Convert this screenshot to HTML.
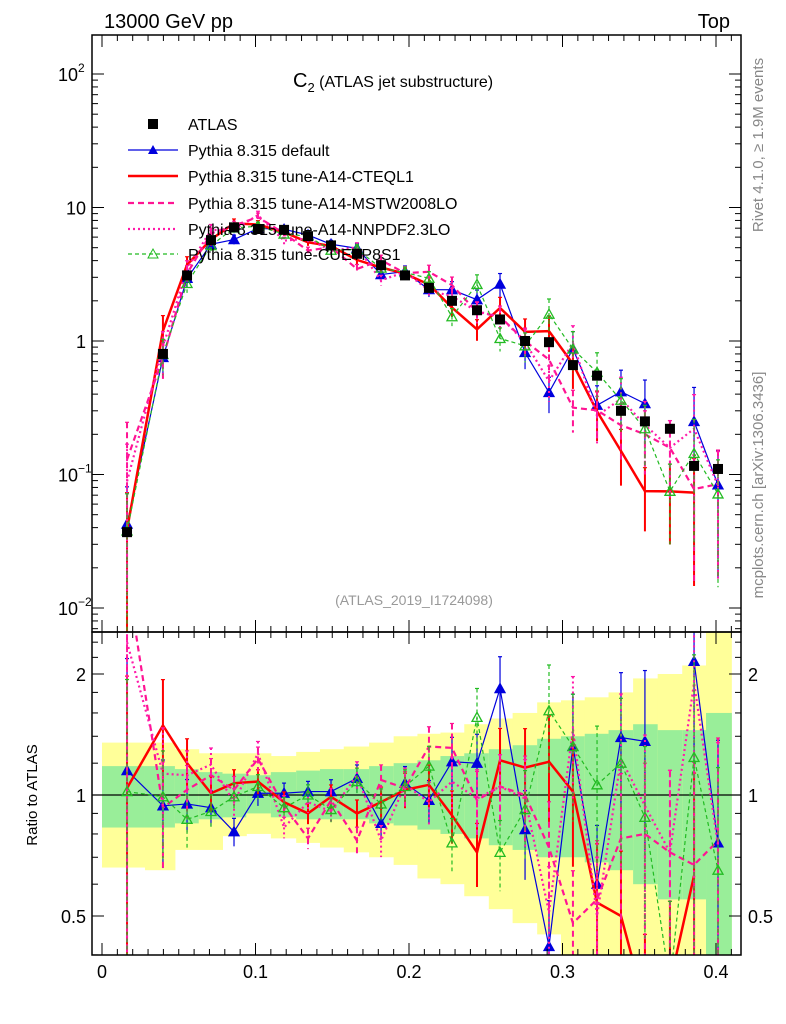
<!DOCTYPE html>
<html><head><meta charset="utf-8"><style>
html,body{margin:0;background:#fff;width:786px;height:1024px;overflow:hidden}
svg{display:block;font-family:"Liberation Sans",sans-serif}
</style></head><body>
<svg id="c" width="786" height="1024" xmlns="http://www.w3.org/2000/svg"></svg>
<script>
const xs=[0.0163,0.0397,0.0554,0.0710,0.0860,0.1016,0.1186,0.1342,0.1492,0.1661,0.1818,0.1974,0.2130,0.2280,0.2443,0.2593,0.2756,0.2912,0.3068,0.3225,0.3381,0.3537,0.3700,0.3857,0.4013];
const edges=[0,0.028,0.0475,0.063,0.0785,0.094,0.110,0.1265,0.142,0.1575,0.174,0.19,0.2055,0.2205,0.236,0.252,0.2675,0.2835,0.299,0.3145,0.330,0.346,0.362,0.378,0.3935,0.41];
const atlas=[0.037,0.8,3.1,5.7,7.1,6.9,6.8,6.1,5.2,4.5,3.7,3.1,2.5,2.0,1.7,1.45,1.0,0.98,0.66,0.55,0.30,0.25,0.22,0.116,0.11];
const rDefault=[1.15,0.94,0.95,0.93,0.81,1.01,1.01,1.02,1.02,1.10,0.85,1.07,0.97,1.21,1.20,1.84,0.82,0.42,1.32,0.60,1.39,1.36,null,2.15,0.76];
const rCTEQ=[1.04,1.49,1.2,1.01,1.07,1.08,0.96,0.9,0.99,0.9,0.96,1.03,1.06,0.89,0.72,1.22,1.17,1.21,1.02,0.54,0.50,0.30,0.34,0.63,null];
const rMSTW=[3.5,0.93,1.03,1.12,1.03,1.23,0.94,0.78,0.97,0.77,1.09,1.04,1.32,1.31,0.97,1.05,1.0,0.74,0.48,0.55,0.78,0.8,0.72,0.67,0.77];
const rNNPDF=[2.4,1.13,1.12,1.19,0.96,1.27,0.83,0.96,0.91,1.12,0.77,1.06,0.96,1.08,0.98,1.05,0.98,0.51,1.46,0.5,1.23,0.94,0.72,1.9,0.75];
const rCUETP=[1.02,0.99,0.87,0.91,0.99,1.05,0.93,1.0,0.92,1.08,0.95,1.05,1.18,0.76,1.56,0.72,0.92,1.62,1.32,1.06,1.2,0.88,0.34,1.24,0.65];
const relErr=[0.9,0.3,0.15,0.1,0.08,0.07,0.06,0.06,0.07,0.08,0.09,0.1,0.12,0.15,0.18,0.2,0.25,0.3,0.35,0.4,0.45,0.5,0.6,0.8,0.8];
const gUp=[1.18,1.18,1.16,1.14,1.13,1.12,1.14,1.15,1.16,1.16,1.18,1.2,1.22,1.25,1.27,1.3,1.33,1.38,1.4,1.42,1.45,1.5,1.45,1.45,1.6];
const gDn=[0.83,0.83,0.85,0.87,0.88,0.9,0.88,0.87,0.87,0.87,0.85,0.84,0.82,0.8,0.78,0.75,0.73,0.7,0.7,0.68,0.65,0.6,0.55,0.55,0.4];
const yUp=[1.35,1.35,1.3,1.27,1.27,1.27,1.25,1.28,1.3,1.32,1.35,1.4,1.42,1.43,1.5,1.55,1.6,1.7,1.72,1.75,1.8,1.95,2.0,2.1,2.6];
const yDn=[0.66,0.65,0.73,0.73,0.79,0.8,0.78,0.76,0.74,0.72,0.7,0.67,0.62,0.6,0.56,0.52,0.48,0.45,0.4,0.35,0.35,0.35,0.3,0.3,0.3];
const xTicks=[0,0.1,0.2,0.3,0.4];
const xTickLabels=["0","0.1","0.2","0.3","0.4"];

const S=document.getElementById('c');const NS='http://www.w3.org/2000/svg';
function el(t,a,p){const e=document.createElementNS(NS,t);for(const k in a)e.setAttribute(k,a[k]);(p||S).appendChild(e);return e;}
const L=92,R=741,T1=35,B1=632,T2=632,B2=955;
const X=v=>102+v*1535;
const Y1=v=>341-Math.log10(v)*133.5;
const Y2=r=>795-Math.log2(r)*121;
const cp1=el('clipPath',{id:'cp1'});el('rect',{x:L,y:T1,width:R-L,height:B1-T1},cp1);
const cp2=el('clipPath',{id:'cp2'});el('rect',{x:L,y:T2,width:R-L,height:B2-T2},cp2);
const gB=el('g',{'clip-path':'url(#cp2)'});


for(let i=0;i<xs.length;i++){
 const x0=X(edges[i]),x1=X(edges[i+1]);
 const yb=el('rect',{x:x0,y:Y2(yUp[i]),width:x1-x0+0.5,height:Y2(yDn[i])-Y2(yUp[i]),fill:'#ffff99'},gB);
 
 
 const gb=el('rect',{x:x0,y:Y2(gUp[i]),width:x1-x0+0.5,height:Y2(gDn[i])-Y2(gUp[i]),fill:'#99ee99'},gB);
 
 
}
el('line',{x1:L,x2:R,y1:Y2(1),y2:Y2(1),stroke:'#000','stroke-width':1.3});
const series=[
 {n:'pythia-default',r:rDefault,c:'#0000dd',w:1.2,d:'',m:'tri'},
 {n:'pythia-cteql1',r:rCTEQ,c:'#ff0000',w:2.5,d:'',m:'none'},
 {n:'pythia-mstw2008lo',r:rMSTW,c:'#ff1493',w:2.2,d:'6,4',m:'none'},
 {n:'pythia-nnpdf23lo',r:rNNPDF,c:'#ff1aaa',w:2.2,d:'2,3',m:'none'},
 {n:'pythia-cuetp8s1',r:rCUETP,c:'#22bb22',w:1.2,d:'4,3',m:'otri'}];
function tri(g,x,y,c,open){const t=el('polygon',{points:`${x-5},${y+4} ${x+5},${y+4} ${x},${y-5}`,fill:open?'none':c,stroke:c,'stroke-width':1.3},g);
 
 }
function drawPanel(which){
 const clip=which==1?'url(#cp1)':'url(#cp2)';
 for(const s of series){
  const g=el('g',{'clip-path':clip});
  
  
  let pts=[];
  for(let i=0;i<xs.length;i++){
   if(s.r[i]==null){if(pts.length)el('polyline',{points:pts.join(' '),fill:'none',stroke:s.c,'stroke-width':s.w,'stroke-dasharray':s.d},g);pts=[];continue;}
   const val=which==1?s.r[i]*atlas[i]:s.r[i];
   const Yf=which==1?Y1:Y2;
   const x=X(xs[i]),y=Yf(val);
   pts.push(x+','+y);
   const e=relErr[i];
   const ye1=Yf(val*(1+e)),ye2=(1-e)>0.001?Yf(val*(1-e)):2000;
   el('line',{x1:x,x2:x,y1:ye1,y2:ye2,stroke:s.c,'stroke-width':s.w>2?2:1.2,'stroke-dasharray':s.d},g);
   el('line',{x1:x-2,x2:x+2,y1:ye1,y2:ye1,stroke:s.c,'stroke-width':1.2},g);
   if(s.m=='tri')tri(g,x,y,s.c,false);
   if(s.m=='otri')tri(g,x,y,s.c,true);
  }
  if(pts.length)el('polyline',{points:pts.join(' '),fill:'none',stroke:s.c,'stroke-width':s.w,'stroke-dasharray':s.d},g);
 }
}
drawPanel(1);drawPanel(2);
const gA=el('g',{'clip-path':'url(#cp1)'});


for(let i=0;i<xs.length;i++){const x=X(xs[i]),y=Y1(atlas[i]);
 el('line',{x1:x,x2:x,y1:Y1(atlas[i]*1.06),y2:Y1(atlas[i]*0.94),stroke:'#000'},gA);
 const r=el('rect',{x:x-5,y:y-5,width:10,height:10,fill:'#000'},gA);
 
 }
for(const [t,b] of [[T1,B1],[T2,B2]]){const f=el('rect',{x:L,y:t,width:R-L,height:b-t,fill:'none',stroke:'#000','stroke-width':1.5});
 
 }
for(let k=0;k<=41;k++){const v=k/100;const x=X(v);const maj=k%10==0;const h=maj?12:6;
 for(const [t,b] of [[T1,B1],[T2,B2]]){el('line',{x1:x,x2:x,y1:b,y2:b-h,stroke:'#000'});el('line',{x1:x,x2:x,y1:t,y2:t+h,stroke:'#000'});}}
xTicks.forEach((v,i)=>{const t=el('text',{x:X(v),y:978,'font-size':18,'text-anchor':'middle'});t.textContent=xTickLabels[i];
 
 });
for(let d=-3;d<=2;d++){for(let k=1;k<10;k++){const v=k*Math.pow(10,d);const y=Y1(v);if(y<T1||y>B1)continue;const h=k==1?12:6;
 el('line',{x1:L,x2:L+h,y1:y,y2:y,stroke:'#000'});el('line',{x1:R,x2:R-h,y1:y,y2:y,stroke:'#000'});}}
const yl=[[2,'10','2'],[1,'10',''],[0,'1',''],[-1,'10','−1'],[-2,'10','−2']];
for(const [d,b,s] of yl){const t=el('text',{x:s?78:86,y:Y1(Math.pow(10,d))+7,'font-size':18,'text-anchor':'end'});t.textContent=b;
 
 
 if(s){const u=el('text',{x:78,y:Y1(Math.pow(10,d))-2,'font-size':12});u.textContent=s;}}
for(const v of [0.4,0.5,0.6,0.7,0.8,0.9,1,1.2,1.4,1.6,1.8,2,2.2,2.4]){const y=Y2(v);const h=(v==0.5||v==1||v==2)?12:6;
 el('line',{x1:L,x2:L+h,y1:y,y2:y,stroke:'#000'});el('line',{x1:R,x2:R-h,y1:y,y2:y,stroke:'#000'});}
for(const [v,s] of [[2,'2'],[1,'1'],[0.5,'0.5']]){const a=el('text',{x:86,y:Y2(v)+7,'font-size':18,'text-anchor':'end'});a.textContent=s;const b=el('text',{x:748,y:Y2(v)+7,'font-size':18});b.textContent=s;}
</script>
<svg width="786" height="1024" style="position:absolute;left:0;top:0">
<g font-family="Liberation Sans, sans-serif">
<text x="104" y="28" font-size="20">13000 GeV pp</text>
<text x="730" y="28" font-size="20" text-anchor="end">Top</text>
<text x="293" y="87" font-size="20">C<tspan font-size="13" dy="5">2</tspan><tspan dy="-5" font-size="16"> (ATLAS jet substructure)</tspan></text>
<text x="414" y="605" font-size="14" fill="#999" text-anchor="middle">(ATLAS_2019_I1724098)</text>
<text transform="translate(763,145) rotate(-90)" font-size="15" fill="#888" text-anchor="middle">Rivet 4.1.0, ≥ 1.9M events</text>
<text transform="translate(763,485) rotate(-90)" font-size="15" fill="#888" text-anchor="middle">mcplots.cern.ch [arXiv:1306.3436]</text>
<text transform="translate(37,795) rotate(-90)" font-size="15" text-anchor="middle">Ratio to ATLAS</text>
<g font-size="16">
<rect x="148" y="119" width="10" height="10" fill="#000"/><text x="188" y="130">ATLAS</text>
<line x1="128" x2="178" y1="150" y2="150" stroke="#0000dd" stroke-width="1.2"/><polygon points="148,154 158,154 153,145" fill="#0000dd"/><text x="188" y="156">Pythia 8.315 default</text>
<line x1="128" x2="178" y1="176" y2="176" stroke="#f00" stroke-width="2.5"/><text x="188" y="182">Pythia 8.315 tune-A14-CTEQL1</text>
<line x1="128" x2="178" y1="203" y2="203" stroke="#ff1493" stroke-width="2.2" stroke-dasharray="6,4"/><text x="188" y="209">Pythia 8.315 tune-A14-MSTW2008LO</text>
<line x1="128" x2="178" y1="229" y2="229" stroke="#ff1aaa" stroke-width="2.2" stroke-dasharray="2,3"/><text x="188" y="235">Pythia 8.315 tune-A14-NNPDF2.3LO</text>
<line x1="128" x2="178" y1="254" y2="254" stroke="#22bb22" stroke-width="1.2" stroke-dasharray="4,3"/><polygon points="148,258 158,258 153,249" fill="none" stroke="#22bb22"/><text x="188" y="260">Pythia 8.315 tune-CUETP8S1</text>
</g></g></svg>
</body></html>
